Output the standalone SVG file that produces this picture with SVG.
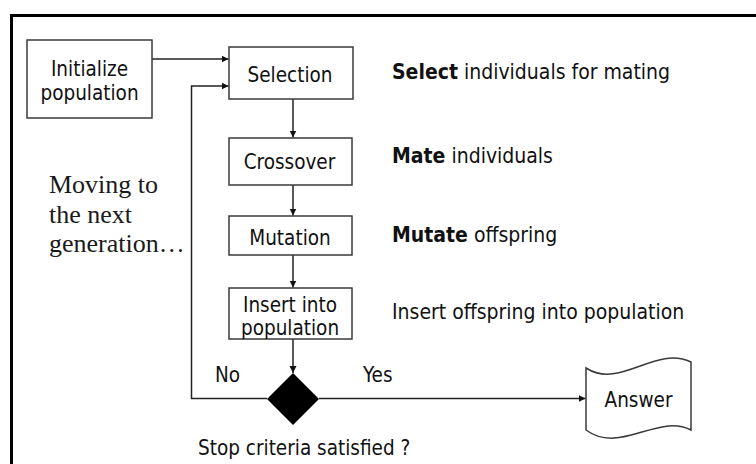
<svg xmlns="http://www.w3.org/2000/svg" width="756" height="464" viewBox="0 0 756 464">
<style>
.box{fill:#fff;stroke:#3a3a3a;stroke-width:1.5}
.t{font-family:"DejaVu Sans Condensed","DejaVu Sans",Verdana,sans-serif;font-size:20.5px;fill:#111}
.r{font-family:"DejaVu Sans Condensed","DejaVu Sans",Verdana,sans-serif;font-size:21px;fill:#111}
.s{font-family:"Liberation Serif","Times New Roman",serif;font-size:26px;fill:#1a1a1a}
.c{fill:none;stroke:#222;stroke-width:1.5}
.m{text-anchor:middle}
</style>
<defs>
<marker id="ah" markerUnits="userSpaceOnUse" markerWidth="8" markerHeight="8" refX="7" refY="3.5" orient="auto">
<path d="M0,0 L7,3.5 L0,7 z" fill="#111"/>
</marker>
</defs>
<rect width="756" height="464" fill="#fff"/>
<path d="M11.5,464 V15.5 H756" fill="none" stroke="#000" stroke-width="3"/>
<g id="connectors">
<path class="c" d="M152,59 H228.5" marker-end="url(#ah)"/>
<path class="c" d="M267,398.5 H191.5 V86 H228.5" marker-end="url(#ah)"/>
<path class="c" d="M293,99 V137.5" marker-end="url(#ah)"/>
<path class="c" d="M293,185 V215.5" marker-end="url(#ah)"/>
<path class="c" d="M293,255 V287.5" marker-end="url(#ah)"/>
<path class="c" d="M293,339 V373" marker-end="url(#ah)"/>
<path class="c" d="M319,398.5 H585.5" marker-end="url(#ah)"/>
</g>
<g id="init">
<rect class="box" x="27" y="40" width="125" height="78"/>
<text class="t m" x="89.5" y="76">Initialize</text>
<text class="t m" x="89.5" y="100">population</text>
</g>
<g id="selection">
<rect class="box" x="229" y="47" width="124" height="52"/>
<text class="t m" x="290" y="82">Selection</text>
</g>
<g id="crossover">
<rect class="box" x="229" y="138" width="123" height="47"/>
<text class="t m" x="289.5" y="169">Crossover</text>
</g>
<g id="mutation">
<rect class="box" x="229" y="216" width="123" height="39"/>
<text class="t m" x="290" y="245">Mutation</text>
</g>
<g id="insert">
<rect class="box" x="229" y="288" width="123" height="51"/>
<text class="t m" x="290" y="312">Insert into</text>
<text class="t m" x="290" y="335">population</text>
</g>
<g id="decision">
<polygon points="293,373 319,399 293,425 267,399" fill="#000"/>
<text class="t" x="198" y="455">Stop criteria satisfied ?</text>
<text class="t" x="215" y="382">No</text>
<text class="t" x="363" y="382">Yes</text>
</g>
<g id="answer">
<path class="box" d="M586,368 C620,390 655,345 691,362 L691,430 C657,413 620,455 586,430 Z"/>
<text class="t m" x="638.5" y="407">Answer</text>
</g>
<g id="notes">
<text class="r" x="392" y="79"><tspan font-weight="bold">Select</tspan> individuals for mating</text>
<text class="r" x="392" y="163"><tspan font-weight="bold">Mate</tspan> individuals</text>
<text class="r" x="392" y="242"><tspan font-weight="bold">Mutate</tspan> offspring</text>
<text class="r" x="392" y="319">Insert offspring into population</text>
<text class="s" x="49" y="193">Moving to</text>
<text class="s" x="49" y="223">the next</text>
<text class="s" x="49" y="252">generation…</text>
</g>
</svg>
